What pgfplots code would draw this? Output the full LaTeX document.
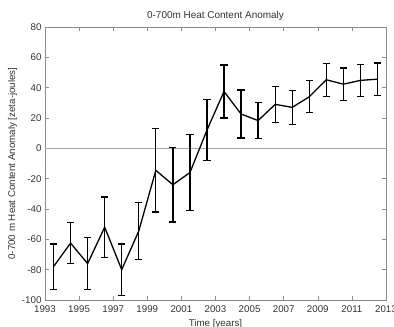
\documentclass[border=0pt]{standalone}
\usepackage{pgfplots}
\pgfplotsset{compat=1.18}
\usepackage{pgfplotstable}
\usepackage{fontspec}
\setmainfont{Liberation Sans}
\pgfplotstableread{
x y e
1993.5 -78 15
1994.5 -62.5 13.5
1995.5 -76 17
1996.5 -52 20
1997.5 -80 17
1998.5 -54.5 19
1999.5 -14.5 27.5
2000.5 -24 24.5
2001.5 -16 25
2002.5 12 20
2003.5 37.5 17.5
2004.5 22.6 15.8
2005.5 18.3 12
2006.5 29 11.8
2007.5 27 11.2
2008.5 34 10.5
2009.5 45.2 10.8
2010.5 42.3 10.7
2011.5 44.8 10.6
2012.5 45.6 10.6
}\heat
\begin{document}
\begin{tikzpicture}
\begin{axis}[
  at={(0,0)}, anchor=south west,
  scale only axis, width=341bp, height=273bp,
  xmin=1993, xmax=2013, ymin=-100, ymax=80,
  xtick={1993,1995,...,2013},
  ytick={-100,-80,...,80},
  x tick label style={/pgf/number format/1000 sep={}, yshift=-2bp},
  y tick label style={xshift=0bp},
  /pgf/number format/assume math mode=true,
  tick label style={font=\fontsize{9.8}{11}\selectfont, text=black!80},
  tick align=inside, major tick length=4bp,
  xtick pos=both, ytick pos=both,
  axis line style={black!45, line width=0.7pt},
  tick style={black!45, line width=0.6pt},
  title={0-700m Heat Content Anomaly},
  title style={font=\fontsize{10}{11}\selectfont, text=black!80, yshift=-3bp},
  xlabel={Time [years]},
  xlabel style={font=\fontsize{9.8}{11}\selectfont, text=black!80, yshift=0bp},
  ylabel={0-700 m Heat Content Anomaly [zeta-joules]},
  ylabel style={font=\fontsize{9.8}{11}\selectfont, text=black!80, yshift=-2bp},
  clip=false,
]
\addplot[black!35, line width=0.6pt, forget plot] coordinates {(1993,0) (2013,0)};
\addplot[black, line width=1.3pt, mark=none,
  error bars/.cd, y dir=both, y explicit,
  error bar style={line width=1.3pt, black},
  error mark options={rotate=90, mark size=3.6bp, line width=1.3pt, black}]
  table[x=x, y=y, y error=e] {\heat};
\end{axis}
\pgfresetboundingbox
\useasboundingbox (-45bp,-27bp) rectangle (349bp,300bp);
\end{tikzpicture}
\end{document}
